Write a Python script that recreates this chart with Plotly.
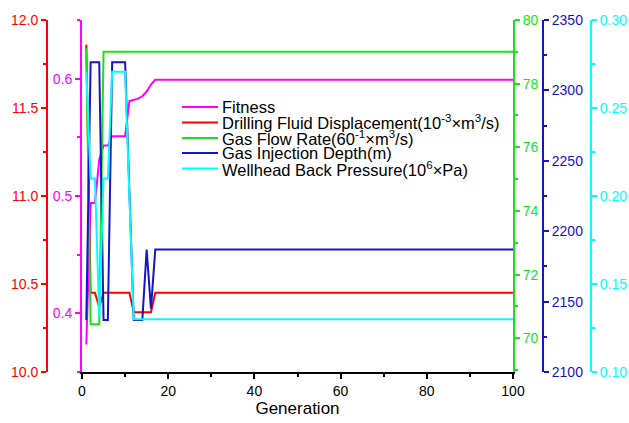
import plotly.graph_objects as go

# ---- data ----
generation = [1, 2, 3, 4, 5, 6, 7, 8, 9, 10, 11, 12, 13, 14, 15, 16, 17, 100]
fitness = [0.3735, 0.494, 0.494, 0.531, 0.543, 0.543, 0.551, 0.551, 0.551, 0.551,
           0.581, 0.582, 0.583, 0.585, 0.589, 0.595, 0.599, 0.599]
fluid_displacement = [11.86, 10.45, 10.45, 10.37, 10.45, 10.45, 10.45, 10.45, 10.45, 10.45,
                      10.45, 10.34, 10.34, 10.34, 10.34, 10.34, 10.45, 10.45]
gas_flow_rate = [79.1, 70.44, 70.44, 70.44, 79.0, 79.0, 79.0, 79.0, 79.0, 79.0,
                 79.0, 79.0, 79.0, 79.0, 79.0, 79.0, 79.0, 79.0]
injection_depth = [2137, 2320, 2320, 2320, 2137, 2137, 2320, 2320, 2320, 2320,
                   2228, 2137, 2137, 2137, 2187, 2145, 2187, 2187]
back_pressure = [0.2706, 0.21, 0.21, 0.131, 0.21, 0.21, 0.2706, 0.2706, 0.2706, 0.2706,
                 0.20, 0.13, 0.13, 0.13, 0.13, 0.13, 0.13, 0.13]

series_names = [
    "Fitness",
    "Drilling Fluid Displacement(10<sup>-3</sup>×m<sup>3</sup>/s)",
    "Gas Flow Rate(60<sup>-1</sup>×m<sup>3</sup>/s)",
    "Gas Injection Depth(m)",
    "Wellhead Back Pressure(10<sup>6</sup>×Pa)",
]
series_values = [fitness, fluid_displacement, gas_flow_rate, injection_depth, back_pressure]
series_colors = ["#FF00FF", "#FF0000", "#14E614", "#1414C8", "#00FFFF"]
axis_ids = ["y", "y2", "y3", "y4", "y5"]

FONT = "Liberation Sans, Arial, sans-serif"

fig = go.Figure()
for name, vals, col, ax in zip(series_names, series_values, series_colors, axis_ids):
    fig.add_trace(go.Scatter(x=generation, y=vals, mode="lines", name=name,
                             line=dict(color=col, width=2), yaxis=ax, showlegend=False))

W, H = 629, 423
ml, mr, mt, mb = 5, 5, 20, 51
pw = W - ml - mr


def px(xp):
    return (xp - ml) / pw


def yax(col, rng, dtick, tick0, minor_dtick, fmt, **kw):
    d = dict(range=rng, dtick=dtick, tick0=tick0, tickformat=fmt, automargin=False,
             showgrid=False, zeroline=False, showline=True, linecolor=col, linewidth=2,
             ticks="outside", ticklen=5, tickwidth=1.5, tickcolor=col,
             tickfont=dict(color=col, size=14, family=FONT),
             minor=dict(dtick=minor_dtick, ticks="outside", ticklen=3, tickwidth=1.5,
                        tickcolor=col, showgrid=False))
    d.update(kw)
    return d


fig.update_layout(
    width=W, height=H,
    margin=dict(l=ml, r=mr, t=mt, b=mb, autoexpand=False),
    showlegend=False,
    paper_bgcolor="white", plot_bgcolor="white",
    font=dict(family=FONT, size=14, color="black"),
    xaxis=dict(domain=[px(82), px(513)], range=[0, 100], dtick=20, tick0=0, automargin=False,
               showgrid=False, zeroline=False, showline=True, linecolor="black", linewidth=1.5,
               ticks="outside", ticklen=5, tickwidth=1.5, tickcolor="black",
               tickfont=dict(size=14, family=FONT, color="black"),
               minor=dict(dtick=10, ticks="outside", ticklen=3, tickwidth=1.5,
                          tickcolor="black", showgrid=False),
               title=dict(text="Generation", font=dict(size=17, family=FONT, color="black"),
                          standoff=4)),
    yaxis=yax(series_colors[0], [0.35, 0.65], 0.1, 0.4, 0.05, ".1f", side="left", anchor="x"),
    yaxis2=yax(series_colors[1], [10, 12], 0.5, 10, 0.25, ".1f", side="left",
               anchor="free", overlaying="y", position=px(47)),
    yaxis3=yax(series_colors[2], [68.94, 80], 2, 70, 1, "d", side="right",
               anchor="x", overlaying="y"),
    yaxis4=yax(series_colors[3], [2100, 2350], 50, 2100, 25, "d", side="right",
               anchor="free", overlaying="y", position=px(543)),
    yaxis5=yax(series_colors[4], [0.10, 0.30], 0.05, 0.10, 0.025, ".2f", side="right",
               anchor="free", overlaying="y", position=px(591)),
)

# ---- hand-drawn legend (rows inside the plot area) ----
plot_left, plot_w = 82, 431
plot_bottom, plot_h = 372, 352
row_y = [107, 122.5, 138, 153, 168.5]
for name, col, yy in zip(series_names, series_colors, row_y):
    yd = (plot_bottom - yy) / plot_h
    fig.add_shape(type="line", xref="x domain", yref="y domain",
                  x0=(182 - plot_left) / plot_w, x1=(218 - plot_left) / plot_w,
                  y0=yd, y1=yd, line=dict(color=col, width=2))
    fig.add_annotation(xref="x domain", yref="y domain", x=(220 - plot_left) / plot_w, y=yd,
                       text=name, showarrow=False, xanchor="left", yanchor="middle",
                       font=dict(size=16.5, family=FONT, color="black"))

fig.write_html("out.html", config={"displayModeBar": False},
               post_script="document.body.style.margin='0px';")
